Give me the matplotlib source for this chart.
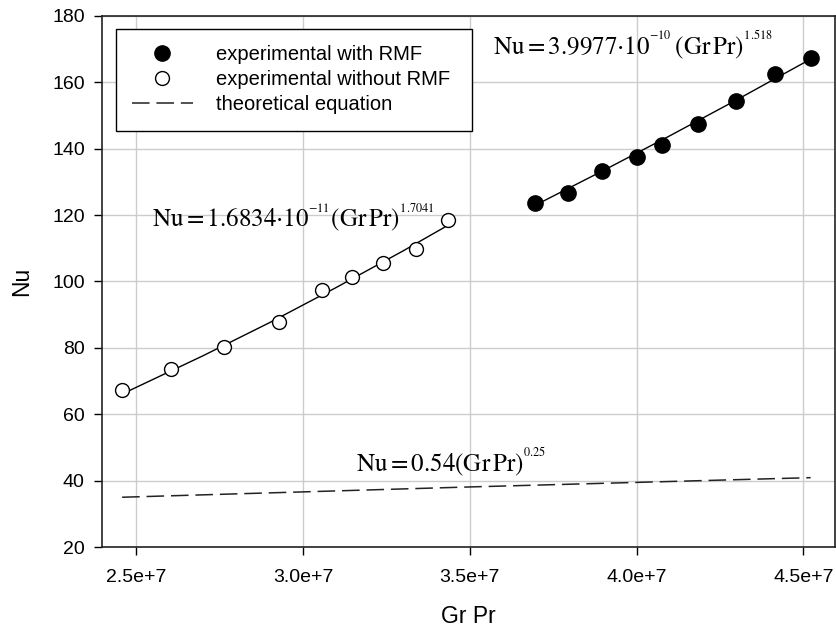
import matplotlib
matplotlib.use("Agg")
import matplotlib.pyplot as plt

plt.rcParams['font.family'] = ['Liberation Sans', 'DejaVu Sans']
plt.rcParams['mathtext.fontset'] = 'stix'

# experimental with RMF
grpr_rmf = [3.695e7, 3.794e7, 3.898e7, 4.002e7, 4.075e7, 4.185e7, 4.297e7, 4.414e7, 4.522e7]
nu_rmf = [123.6, 126.8, 133.4, 137.6, 141.0, 147.4, 154.5, 162.5, 167.3]

# experimental without RMF
grpr_norm = [2.458e7, 2.606e7, 2.763e7, 2.928e7, 3.056e7, 3.148e7, 3.241e7, 3.338e7, 3.436e7]
nu_norm = [67.3, 73.5, 80.4, 87.7, 97.4, 101.4, 105.7, 109.9, 118.5]

# fitted curves
fit_rmf_x = [3.695e7, 3.9e7, 4.1e7, 4.3e7, 4.522e7]
fit_rmf_y = [122.9, 133.4, 143.9, 154.7, 167.0]
fit_norm_x = [2.458e7, 2.7e7, 2.9e7, 3.1e7, 3.3e7, 3.436e7]
fit_norm_y = [66.1, 77.6, 87.6, 98.2, 109.2, 117.0]

# theoretical equation
theo_x = [2.458e7, 3.5e7, 4.522e7]
theo_y = [35.0, 38.1, 40.9]

fig = plt.figure(figsize=(8.37, 6.3), dpi=100)
ax = fig.add_axes([0.122, 0.1317, 0.876, 0.843])

ax.plot(fit_rmf_x, fit_rmf_y, color='black', lw=1.0, zorder=2)
ax.plot(fit_norm_x, fit_norm_y, color='black', lw=1.0, zorder=2)
theo, = ax.plot(theo_x, theo_y, color='#222222', lw=1.1, zorder=2, label='theoretical equation')
theo.set_dashes((11.5, 4.5))

ax.plot(grpr_rmf, nu_rmf, 'o', color='black', ms=11, zorder=3, label='experimental with RMF')
ax.plot(grpr_norm, nu_norm, 'o', mfc='white', mec='black', mew=1.0, ms=10, zorder=3,
        label='experimental without RMF')

eq_size = 18
ax.text(3.571e7, 168.25,
        r'$\mathrm{Nu} = 3.9977{\cdot}10^{{}^{-10}}\,\left(\mathrm{Gr\,Pr}\right)^{{}^{1.518}}$',
        fontsize=eq_size, ha='left', va='baseline')
ax.text(2.548e7, 116.5,
        r'$\mathrm{Nu} = 1.6834{\cdot}10^{{}^{-11}}\left(\mathrm{Gr\,Pr}\right)^{{}^{1.7041}}$',
        fontsize=eq_size, ha='left', va='baseline')
ax.text(3.158e7, 42.7,
        r'$\mathrm{Nu} = 0.54\left(\mathrm{Gr\,Pr}\right)^{{}^{0.25}}$',
        fontsize=eq_size, ha='left', va='baseline')

ax.set_xlim(2.398e7, 4.596e7)
ax.set_ylim(20, 180)
ax.set_xticks([2.5e7, 3.0e7, 3.5e7, 4.0e7, 4.5e7])
ax.set_xticklabels(['2.5e+7', '3.0e+7', '3.5e+7', '4.0e+7', '4.5e+7'])
ax.set_yticks(range(20, 181, 20))
ax.tick_params(labelsize=14, direction='out', length=5.5, width=1, pad=7)
ax.tick_params(axis='x', pad=10)
ax.grid(True, color='#cccccc', lw=1)
ax.set_axisbelow(True)
for s in ax.spines.values():
    s.set_linewidth(1.2)
    s.set_color('#222222')

ax.set_xlabel('Gr Pr', fontsize=16.5, labelpad=14)
ax.set_ylabel('Nu', fontsize=16.5, labelpad=13.5)

handles, labels = ax.get_legend_handles_labels()
order = [1, 2, 0]
leg = ax.legend([handles[i] for i in order], [labels[i] for i in order],
                loc='upper left', bbox_to_anchor=(0.0187, 0.5, 0.4853, 0.475),
                mode='expand', borderaxespad=0,
                fontsize=14.5, fancybox=False, edgecolor='black', framealpha=1,
                handlelength=3.02, handletextpad=1.15, labelspacing=0.3,
                borderpad=0.8)
leg.get_frame().set_linewidth(1.0)

fig.savefig('out.png', dpi=100)
